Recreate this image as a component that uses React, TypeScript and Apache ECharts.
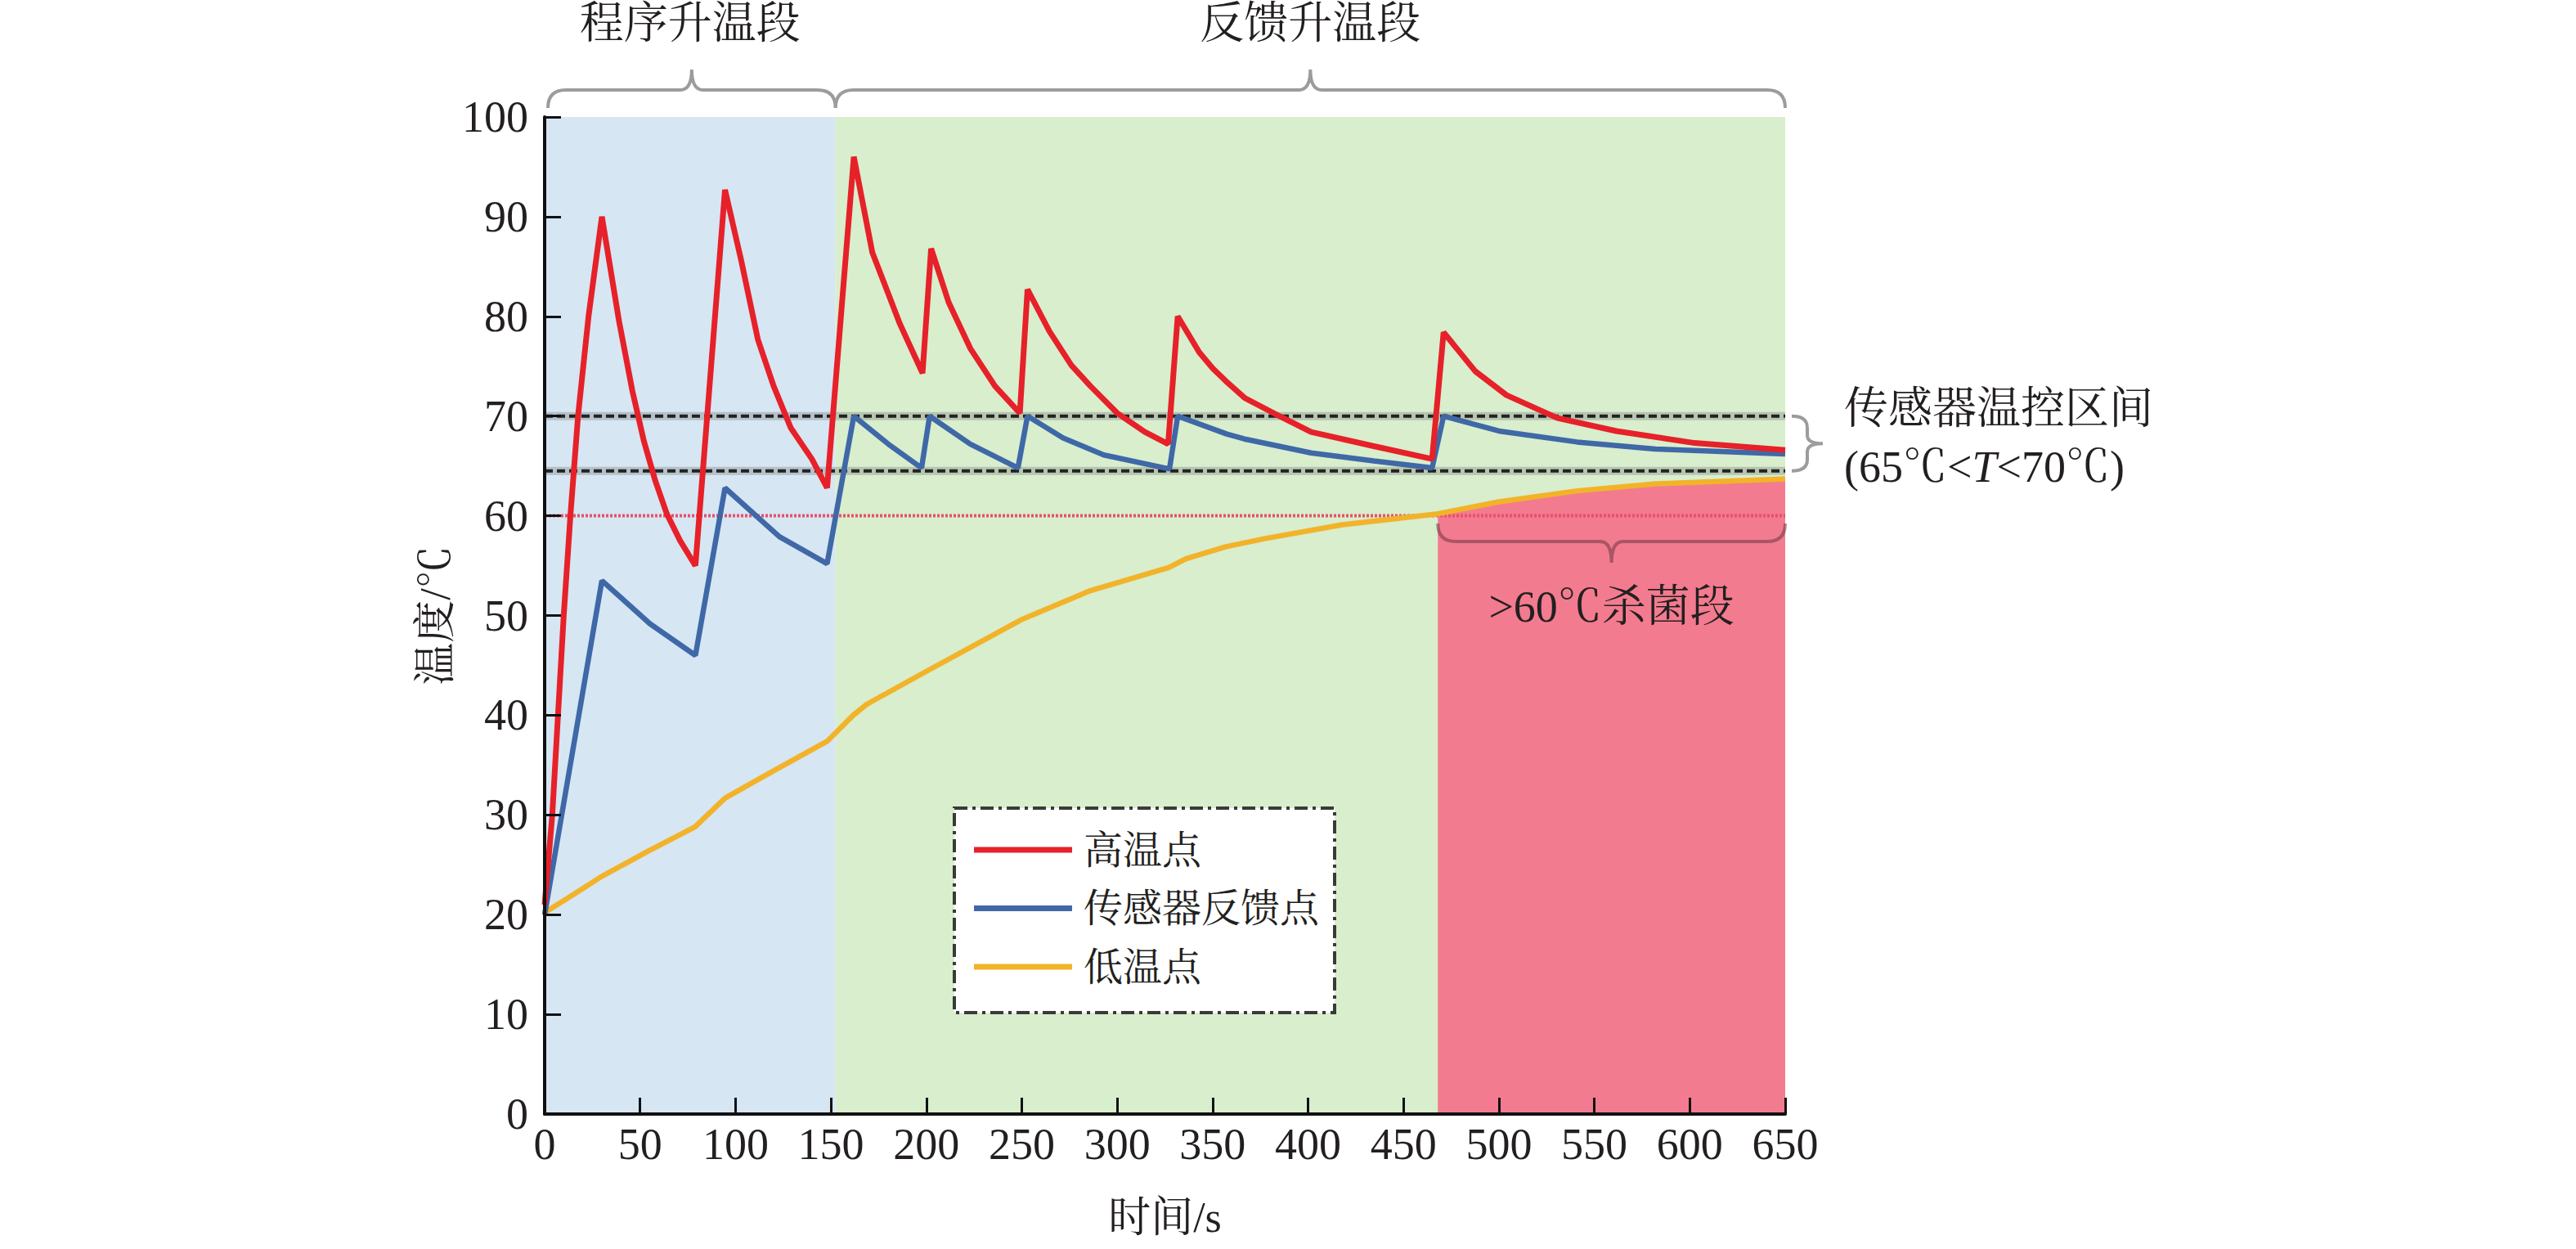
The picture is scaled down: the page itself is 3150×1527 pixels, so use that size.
import React, { useEffect, useRef } from "react";
import * as echarts from "echarts";

// ---- data ----
const highTime = [0, 4, 7, 10, 13.5, 17.5, 23, 30, 39, 46, 52, 58, 64, 71, 79, 94.5, 103, 111.7, 120, 129, 140, 148, 162, 171.7, 180, 186, 198, 202.5, 211.7, 223, 236, 249, 253, 264.5, 276, 286, 300, 314.5, 326.7, 331.7, 343, 350, 357, 367, 383, 401.6, 434, 465, 471, 487.6, 504, 530.7, 561.5, 602.5, 650];
const highTemp = [21, 30, 40, 50, 60, 70, 80, 90, 79.5, 72.5, 67.5, 63.5, 60.2, 57.5, 55, 92.7, 85.6, 77.7, 73, 68.8, 65.7, 62.8, 96, 86.4, 82.3, 79.3, 74.3, 86.8, 81.4, 76.8, 73, 70.3, 82.7, 78.5, 75.1, 73, 70.3, 68.4, 67.2, 80, 76.4, 74.8, 73.5, 71.8, 70.2, 68.4, 67, 65.7, 78.4, 74.5, 72.1, 69.8, 68.5, 67.3, 66.6];

const sensorTime = [0, 30, 55, 79, 94.5, 123, 148, 162, 180, 197.5, 201.7, 223, 248, 253, 271.7, 293, 327.4, 331.7, 357.4, 366.7, 401.6, 434.4, 465, 471, 500, 541, 582, 650];
const sensorTemp = [20, 53.5, 49.2, 46, 62.8, 57.9, 55.2, 70, 67.2, 64.8, 70, 67.2, 64.8, 70, 67.8, 66.1, 64.7, 70, 68.2, 67.7, 66.3, 65.5, 64.8, 70, 68.5, 67.4, 66.7, 66.2];

const lowTime = [0, 15, 29.6, 54.6, 78.8, 94.6, 118.8, 148.1, 161.7, 168.8, 200, 250, 286, 327, 336, 357, 377, 418, 468, 500, 541, 582, 650];
const lowTemp = [20.2, 22, 23.8, 26.4, 28.8, 31.7, 34.3, 37.4, 40, 41.1, 44.4, 49.6, 52.5, 54.8, 55.7, 56.9, 57.7, 59.1, 60.2, 61.4, 62.5, 63.2, 63.7];

const xTicks = { min: 0, max: 650, interval: 50 };
const yTicks = { min: 0, max: 100, interval: 10 };
const phaseSplit = 152.4; // 程序升温段 -> 反馈升温段
const sterilizeStart = 468; // >60℃ 杀菌段 start
const bandUpper = 70;
const bandLower = 64.5;
const sterilizeTemp = 60;

const seriesNames = ["高温点", "传感器反馈点", "低温点"];
const phaseLabels = ["程序升温段", "反馈升温段"];

const zip = (t: number[], v: number[]) => t.map((x, i) => [x, v[i]]);

// layout
const W = 3150;
const H = 1527;
const G = { left: 666, top: 143, right: 2183, bottom: 1362 };
const FONT = '"Liberation Serif", "Times New Roman", "Noto Serif CJK SC", "Noto Sans CJK SC", serif';
const TXT = "#231f20";

const px = (x: number) => G.left + ((x - xTicks.min) / (xTicks.max - xTicks.min)) * (G.right - G.left);
const py = (y: number) => G.bottom - ((y - yTicks.min) / (yTicks.max - yTicks.min)) * (G.bottom - G.top);

function hBraceUp(x1: number, x2: number, yEnd: number, yBar: number, yTip: number, r: number) {
  const xm = (x1 + x2) / 2;
  return `M${x1} ${yEnd} Q${x1} ${yBar} ${x1 + r} ${yBar} L${xm - 14} ${yBar} Q${xm} ${yBar} ${xm} ${yTip} Q${xm} ${yBar} ${xm + 14} ${yBar} L${x2 - r} ${yBar} Q${x2} ${yBar} ${x2} ${yEnd}`;
}

export default function App() {
  const ref = useRef<HTMLDivElement>(null);
  useEffect(() => {
    document.body.style.margin = "0";
    if (!ref.current) return;

    const dTop1 = hBraceUp(px(0) + 4, px(phaseSplit), 132, 110, 85, 22);
    const dTop2 = hBraceUp(px(phaseSplit), px(xTicks.max), 132, 110, 85, 22);
    const yU = py(bandUpper);
    const yL = py(bandLower);
    const yM = (yU + yL) / 2;
    const dRight = `M${G.right + 8} ${yU} Q${G.right + 27} ${yU} ${G.right + 27} ${yU + 14} L${G.right + 27} ${yM - 10} Q${G.right + 27} ${yM} ${G.right + 46} ${yM} Q${G.right + 27} ${yM} ${G.right + 27} ${yM + 10} L${G.right + 27} ${yL - 14} Q${G.right + 27} ${yL} ${G.right + 8} ${yL}`;
    const xs1 = px(sterilizeStart);
    const xs2 = px(xTicks.max);
    const xsm = (xs1 + xs2) / 2;
    const dLow = `M${xs1} 640 Q${xs1} 662 ${xs1 + 22} 662 L${xsm - 14} 662 Q${xsm} 662 ${xsm} 688 Q${xsm} 662 ${xsm + 14} 662 L${xs2 - 22} 662 Q${xs2} 662 ${xs2} 640`;

    echarts.graphic.registerShape("braceTop1", echarts.graphic.extendPath(dTop1, {}));
    echarts.graphic.registerShape("braceTop2", echarts.graphic.extendPath(dTop2, {}));
    echarts.graphic.registerShape("braceRight", echarts.graphic.extendPath(dRight, {}));
    echarts.graphic.registerShape("braceLow", echarts.graphic.extendPath(dLow, {}));

    const chart = echarts.init(ref.current, undefined, { renderer: "svg" });

    const highData = zip(highTime, highTemp);
    const sensorData = zip(sensorTime, sensorTemp);
    const lowData = zip(lowTime, lowTemp);
    const pinkData = lowData.filter((p) => p[0] >= sterilizeStart);

    const hline = (y: number) => [[xTicks.min, y], [xTicks.max, y]];

    const axisCommon = {
      type: "value",
      z: 10,
      splitLine: { show: false },
      axisLine: { show: true, lineStyle: { color: "#111", width: 4 } },
      axisTick: { show: true, inside: true, length: 20, lineStyle: { color: "#111", width: 3 } },
      axisLabel: { fontSize: 54, fontFamily: FONT, color: TXT },
      nameTextStyle: { fontSize: 52, fontFamily: FONT, color: TXT },
      nameLocation: "middle",
    };

    const option: any = {
      animation: false,
      backgroundColor: "#ffffff",
      grid: { left: G.left, top: G.top, right: W - G.right, bottom: H - G.bottom, containLabel: false },
      xAxis: {
        ...axisCommon,
        ...xTicks,
        name: "时间/s",
        nameGap: 100,
        axisLabel: { ...axisCommon.axisLabel, margin: 10 },
      },
      yAxis: {
        ...axisCommon,
        ...yTicks,
        name: "温度/℃",
        nameGap: 108,
        axisLabel: { ...axisCommon.axisLabel, margin: 20 },
      },
      legend: {
        left: 1167,
        top: 988,
        orient: "vertical",
        icon: "rect",
        itemWidth: 120,
        itemHeight: 7,
        itemGap: 15.5,
        padding: [23, 19, 28, 24],
        backgroundColor: "#ffffff",
        borderColor: "#3a3a3a",
        borderWidth: 4,
        borderType: [16, 6, 4, 6],
        selectedMode: false,
        textStyle: { fontSize: 48, lineHeight: 56, color: TXT, fontFamily: FONT, padding: [0, 0, 0, 9] },
        data: seriesNames,
      },
      series: [
        {
          type: "line", silent: true, z: 1, symbol: "none",
          data: [[xTicks.min, yTicks.max], [phaseSplit, yTicks.max]],
          lineStyle: { width: 0 }, areaStyle: { color: "#d6e6f3", opacity: 1 },
        },
        {
          type: "line", silent: true, z: 1, symbol: "none",
          data: [[phaseSplit, yTicks.max], [xTicks.max, yTicks.max]],
          lineStyle: { width: 0 }, areaStyle: { color: "#d8eecd", opacity: 1 },
        },
        {
          type: "line", silent: true, z: 1, symbol: "none",
          data: pinkData,
          lineStyle: { width: 0 }, areaStyle: { color: "#f37b8f", opacity: 1 },
        },
        // band lines
        ...[bandUpper, bandLower].flatMap((y) => [
          { type: "line", silent: true, z: 2, symbol: "none", data: hline(y), lineStyle: { color: "rgba(120,120,120,0.35)", width: 10 } },
          { type: "line", silent: true, z: 2, symbol: "none", data: hline(y), lineStyle: { color: "#222", width: 4, type: [10, 5] } },
        ]),
        {
          type: "line", silent: true, z: 2, symbol: "none", data: hline(sterilizeTemp),
          lineStyle: { color: "#e8506a", width: 4, type: [3, 2] },
        },
        {
          name: seriesNames[2], type: "line", z: 3, symbol: "none", data: lowData,
          color: "#f2b32a", lineStyle: { color: "#f2b32a", width: 6.5 },
        },
        {
          name: seriesNames[1], type: "line", z: 4, symbol: "none", data: sensorData,
          color: "#3f68a7", lineStyle: { color: "#3f68a7", width: 6.5 },
        },
        {
          name: seriesNames[0], type: "line", z: 5, symbol: "none", data: highData,
          color: "#e62129", lineStyle: { color: "#e62129", width: 7 },
        },
      ],
      graphic: [
        { type: "braceTop1", silent: true, z: 100, style: { stroke: "#9c9c9c", lineWidth: 4, fill: "none" } },
        { type: "braceTop2", silent: true, z: 100, style: { stroke: "#9c9c9c", lineWidth: 4, fill: "none" } },
        { type: "braceRight", silent: true, z: 100, style: { stroke: "#9c9c9c", lineWidth: 4, fill: "none" } },
        { type: "braceLow", silent: true, z: 100, style: { stroke: "rgba(110,55,65,0.55)", lineWidth: 4, fill: "none" } },
        {
          type: "text", silent: true, z: 100, x: px(phaseSplit / 2), y: 29,
          style: { text: phaseLabels[0], fontSize: 54, fontFamily: FONT, fill: TXT, align: "center", verticalAlign: "middle" },
        },
        {
          type: "text", silent: true, z: 100, x: (px(phaseSplit) + px(xTicks.max)) / 2, y: 29,
          style: { text: phaseLabels[1], fontSize: 54, fontFamily: FONT, fill: TXT, align: "center", verticalAlign: "middle" },
        },
        {
          type: "text", silent: true, z: 100, x: 2255, y: 500,
          style: { text: "传感器温控区间", fontSize: 54, fontFamily: FONT, fill: TXT, align: "left", verticalAlign: "middle" },
        },
        {
          type: "text", silent: true, z: 100, x: 2255, y: 571,
          style: {
            text: "(65℃<{i|T}<70℃)", fontSize: 54, fontFamily: FONT, fill: TXT, align: "left", verticalAlign: "middle",
            rich: { i: { fontStyle: "italic", fontSize: 54, fontFamily: FONT, fill: TXT } },
          },
        },
        {
          type: "text", silent: true, z: 100, x: xsm, y: 742,
          style: { text: ">60℃杀菌段", fontSize: 54, fontFamily: FONT, fill: TXT, align: "center", verticalAlign: "middle" },
        },
      ],
    };

    chart.setOption(option);
    return () => chart.dispose();
  }, []);

  return <div ref={ref} style={{ width: W, height: H }} />;
}
